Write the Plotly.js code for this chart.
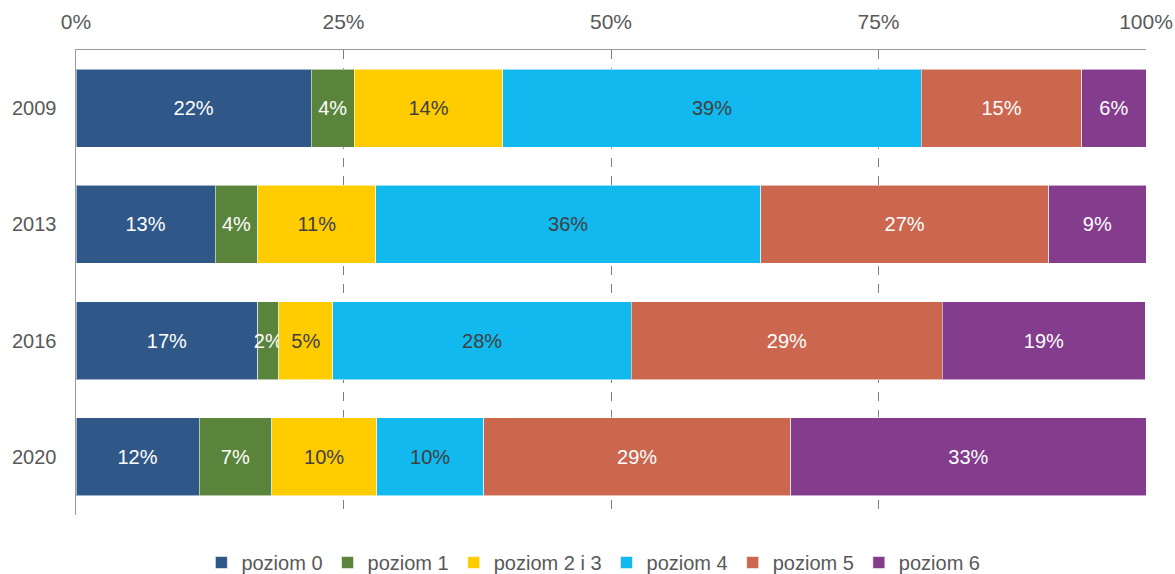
<!DOCTYPE html>
<html>
<head>
<meta charset="utf-8">
<script src="https://cdn.plot.ly/plotly-3.0.1.min.js"></script>
<style>html,body{margin:0;padding:0;background:#fff;}#chart{width:1175px;height:574px;}</style>
</head>
<body>
<div id="chart"></div>
<script>
const years = ['2009', '2013', '2016', '2020'];
const seriesNames = ['poziom 0', 'poziom 1', 'poziom 2 i 3', 'poziom 4', 'poziom 5', 'poziom 6'];
const poziom0 = [22.0, 13.0, 17.0, 11.5];
const poziom1 = [4.0, 4.0, 1.96, 6.8];
const poziom23 = [13.9, 11.0, 5.05, 9.8];
const poziom4 = [39.1, 36.0, 27.9, 10.0];
const poziom5 = [15.0, 26.9, 29.07, 28.7];
const poziom6 = [6.0, 9.1, 18.97, 33.2];
const xTickVals = [0, 25, 50, 75, 100];

const seriesValues = [poziom0, poziom1, poziom23, poziom4, poziom5, poziom6];
const colors = ['#2F5889', '#5A843C', '#FFCC00', '#11B9EE', '#CB664F', '#843C8C'];
const textColors = ['#ffffff', '#ffffff', '#404040', '#404040', '#ffffff', '#ffffff'];

const traces = seriesNames.map((name, i) => ({
  type: 'bar',
  orientation: 'h',
  name: name,
  y: years,
  x: seriesValues[i],
  text: seriesValues[i].map(v => Math.round(v) + '%'),
  textposition: 'inside',
  insidetextanchor: 'middle',
  textangle: 0,
  constraintext: 'none',
  cliponaxis: false,
  insidetextfont: {family: 'Liberation Sans, Arial, sans-serif', size: 20, color: textColors[i]},
  marker: {color: colors[i], line: {color: 'rgba(255,255,255,0.55)', width: 1}},
  hoverinfo: 'name+x'
}));

const layout = {
  width: 1175,
  height: 574,
  barmode: 'stack',
  bargap: 0.33,
  margin: {l: 76, r: 29, t: 50, b: 59},
  paper_bgcolor: '#ffffff',
  plot_bgcolor: '#ffffff',
  font: {family: 'Liberation Sans, Arial, sans-serif', size: 20, color: '#595959'},
  showlegend: true,
  legend: {
    orientation: 'h',
    x: 0.505,
    xref: 'container',
    xanchor: 'center',
    y: 0.02,
    yref: 'container',
    yanchor: 'middle',
    font: {size: 20, color: '#595959'},
    itemgap: 4,
    traceorder: 'normal'
  },
  xaxis: {
    side: 'top',
    range: [0, 100],
    tickvals: xTickVals,
    ticktext: xTickVals.map(v => v + '%'),
    ticks: '',
    ticklabelstandoff: 11,
    tickfont: {size: 21},
    showline: true,
    linecolor: '#9a9a9a',
    linewidth: 1.5,
    showgrid: true,
    gridcolor: '#7f7f7f',
    griddash: 'dash',
    gridwidth: 1,
    zeroline: false,
    fixedrange: true
  },
  yaxis: {
    type: 'category',
    autorange: 'reversed',
    ticks: '',
    ticklabelstandoff: 14,
    showline: true,
    linecolor: '#9a9a9a',
    linewidth: 1.5,
    showgrid: false,
    zeroline: false,
    fixedrange: true
  }
};

Plotly.newPlot('chart', traces, layout, {displayModeBar: false, staticPlot: true});
</script>
</body>
</html>
